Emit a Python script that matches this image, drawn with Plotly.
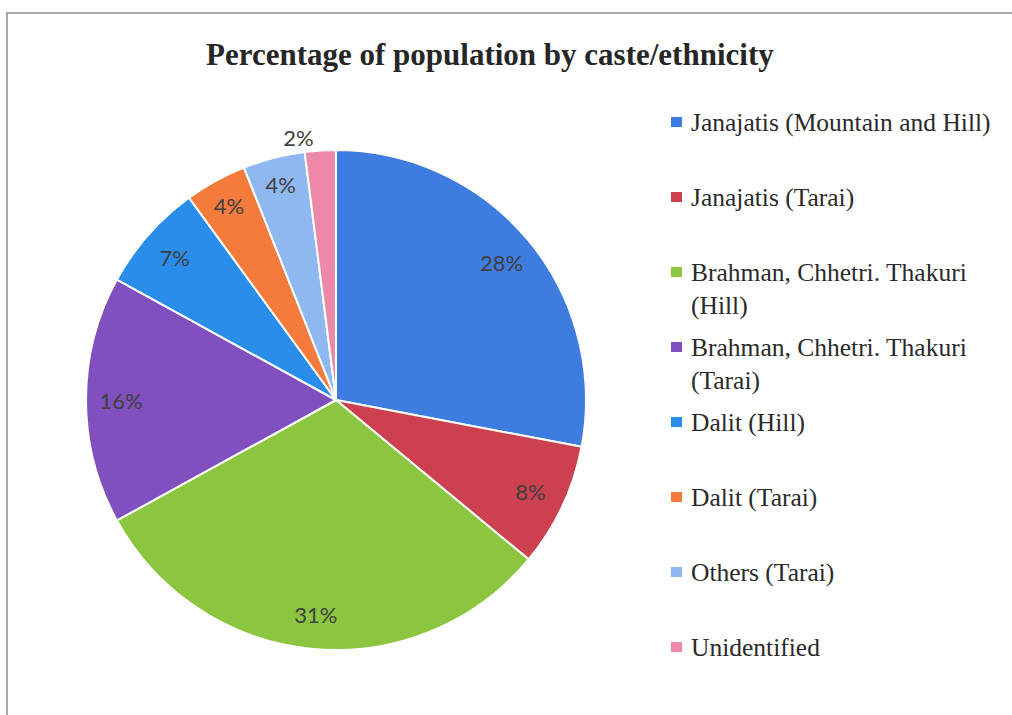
import plotly.graph_objects as go

# Population share by caste/ethnicity (%)
groups = [
    "Janajatis (Mountain and Hill)",
    "Janajatis (Tarai)",
    "Brahman, Chhetri. Thakuri (Hill)",
    "Brahman, Chhetri. Thakuri (Tarai)",
    "Dalit (Hill)",
    "Dalit (Tarai)",
    "Others (Tarai)",
    "Unidentified",
]
shares = [28, 8, 31, 16, 7, 4, 4, 2]
legend_text = [
    "Janajatis (Mountain and Hill)",
    "Janajatis (Tarai)",
    "Brahman, Chhetri. Thakuri<br>(Hill)",
    "Brahman, Chhetri. Thakuri<br>(Tarai)",
    "Dalit (Hill)",
    "Dalit (Tarai)",
    "Others (Tarai)",
    "Unidentified",
]
colors = ["#3F7CE0", "#CC4050", "#8CC540", "#7F50BE",
          "#2A8DEA", "#F47B3C", "#90B8F0", "#EC88A8"]

W, H = 1012, 715


def px(x):
    return x / W


def py(y):
    return 1 - y / H


pie_domain = dict(x=[px(86), px(586)], y=[py(655), py(145)])

fig = go.Figure()
# Solid pie
fig.add_trace(go.Pie(
    labels=groups,
    values=shares,
    sort=False,
    direction="clockwise",
    rotation=0,
    marker=dict(colors=colors, line=dict(color="white", width=2)),
    textinfo="none",
    showlegend=False,
    hoverinfo="label+percent",
    domain=pie_domain,
))
# Transparent ring on top carrying the percentage labels near the rim
fig.add_trace(go.Pie(
    labels=groups,
    values=shares,
    sort=False,
    direction="clockwise",
    rotation=0,
    hole=0.72,
    marker=dict(colors=["rgba(0,0,0,0)"] * len(shares),
                line=dict(width=0)),
    texttemplate="%{percent:.0%}",
    textposition=["inside"] * 7 + ["outside"],
    insidetextorientation="horizontal",
    textfont=dict(family="Lato", size=22, color="#404040"),
    showlegend=False,
    hoverinfo="skip",
    domain=pie_domain,
))

annotations = [dict(
    text="<b>Percentage of population by caste/ethnicity</b>",
    x=px(490), y=py(55), xref="paper", yref="paper",
    xanchor="center", yanchor="middle", showarrow=False,
    font=dict(family="Liberation Serif", size=31, color="#262626"),
)]
shapes = [dict(
    type="rect", xref="paper", yref="paper",
    x0=px(7), x1=1.02, y0=-0.02, y1=py(13),
    line=dict(color="#8a8a8a", width=1.5), fillcolor="rgba(0,0,0,0)",
)]

# Hand-built legend: a coloured square and a label per group, 75 px apart
for i, (txt, col) in enumerate(zip(legend_text, colors)):
    yc = 122 + 75 * i
    shapes.append(dict(
        type="rect", xref="paper", yref="paper",
        x0=px(671), x1=px(682), y0=py(yc + 5), y1=py(yc - 5),
        fillcolor=col, line=dict(width=0),
    ))
    annotations.append(dict(
        text=txt, x=px(689), y=py(yc - 16), xref="paper", yref="paper",
        xanchor="left", yanchor="top", align="left", showarrow=False,
        font=dict(family="Liberation Serif", size=25.5, color="#2a2a2a"),
    ))

fig.update_layout(
    width=W, height=H,
    margin=dict(l=0, r=0, t=0, b=0),
    paper_bgcolor="white",
    annotations=annotations,
    shapes=shapes,
)

fig.write_html("out.html")
